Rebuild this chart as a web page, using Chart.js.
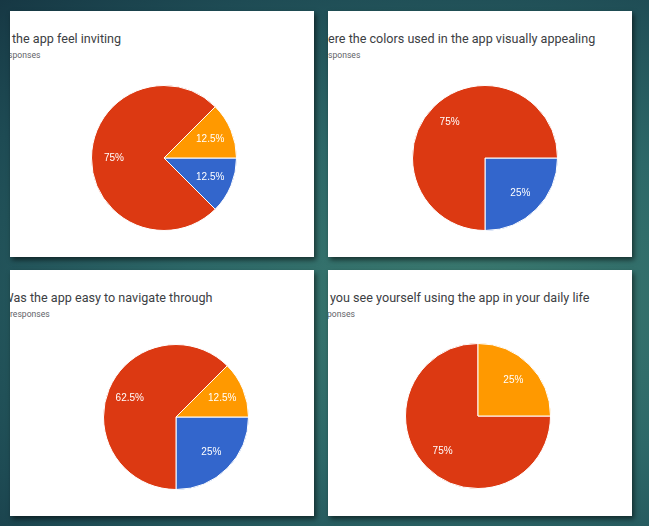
<!DOCTYPE html>
<html>
<head>
<meta charset="utf-8">
<script src="https://cdn.jsdelivr.net/npm/chart.js@4.4.1/dist/chart.umd.min.js"></script>
<style>
    html, body {
        margin: 0;
        padding: 0;
        width: 649px;
        height: 526px;
        overflow: hidden;
    }
    body {
        position: relative;
        background: radial-gradient(ellipse 110% 85% at 72% 58%, #3c7b70 0%, #2d6868 40%, #1e4b54 75%, #14323f 100%);
        font-family: Roboto, "Noto Sans", sans-serif;
    }
    .card {
        position: absolute;
        width: 304px;
        height: 246px;
        background: #fff;
        overflow: hidden;
        box-shadow: 2px 3px 5px rgba(0, 0, 0, 0.55);
    }
    .title, .subtitle {
        position: absolute;
        white-space: nowrap;
    }
    .title {
        top: 20px;
        font-size: 12.6px;
        color: #3c4043;
    }
    .subtitle {
        top: 39px;
        font-size: 8.6px;
        color: #5f6368;
    }
    .card canvas {
        position: absolute;
    }
</style>
</head>
<body>

<script>
// Answer options (no legend visible in the screenshot)
const categories = ["Option 1", "Option 2", "Option 3"];

// Response counts per question (8 responses each)
const invitingCounts = [1, 6, 1];
const colorsCounts = [2, 6, 0];
const navigateCounts = [2, 5, 1];
const dailyLifeCounts = [0, 6, 2];

const sliceColors = ["#3366cc", "#dc3912", "#ff9900"];

// Question titles: hidden part (cropped off on the left) + visible part
const titleHidden = ["Did ", "W", "W", "Can "];
const titleVisible = [
    "the app feel inviting",
    "ere the colors used in the app visually appealing",
    "as the app easy to navigate through",
    "you see yourself using the app in your daily life",
];
const subHidden = ["8 res", "8 re", "8 ", "8 res"];
const subVisible = ["ponses", "sponses", "responses", "ponses"];

// card placement and pie centre inside each card
const cards = [
    { left: 10, top: 11, cx: 154, cy: 147, data: invitingCounts, tx: 2, sx: 2.5 },
    { left: 328, top: 11, cx: 157, cy: 147, data: colorsCounts, tx: 0, sx: 0 },
    { left: 10, top: 270, cx: 166, cy: 147, data: navigateCounts, tx: 3.5, sx: 0 },
    { left: 328, top: 270, cx: 150, cy: 146, data: dailyLifeCounts, tx: 2, sx: -1 },
];

// Draws the percentage inside each slice
const sliceLabels = {
    id: "sliceLabels",
    afterDatasetsDraw(chart) {
        const ctx = chart.ctx;
        const values = chart.data.datasets[0].data;
        const total = values.reduce((a, b) => a + b, 0);
        const arcs = chart.getDatasetMeta(0).data;
        ctx.save();
        ctx.font = '10px "Liberation Sans", Arial, sans-serif';
        ctx.fillStyle = "#ffffff";
        ctx.textAlign = "center";
        ctx.textBaseline = "middle";
        arcs.forEach((arc, i) => {
            if (!values[i]) return;
            const p = arc.getProps(["x", "y", "startAngle", "endAngle", "outerRadius"], true);
            const mid = (p.startAngle + p.endAngle) / 2;
            const r = p.outerRadius * 0.69;
            const pct = Math.round((values[i] / total) * 1000) / 10;
            ctx.fillText(pct + "%", p.x + Math.cos(mid) * r, p.y + Math.sin(mid) * r);
        });
        ctx.restore();
    },
};

const SIZE = 146;

cards.forEach((c, i) => {
    const card = document.createElement("div");
    card.className = "card";
    card.style.left = c.left + "px";
    card.style.top = c.top + "px";
    document.body.appendChild(card);

    const title = document.createElement("div");
    title.className = "title";
    title.innerHTML = '<span class="h">' + titleHidden[i] + "</span>" + titleVisible[i];
    card.appendChild(title);
    title.style.left = c.tx - title.querySelector(".h").getBoundingClientRect().width + "px";

    const sub = document.createElement("div");
    sub.className = "subtitle";
    sub.innerHTML = '<span class="h">' + subHidden[i] + "</span>" + subVisible[i];
    card.appendChild(sub);
    sub.style.left = c.sx - sub.querySelector(".h").getBoundingClientRect().width + "px";

    const canvas = document.createElement("canvas");
    canvas.width = SIZE;
    canvas.height = SIZE;
    canvas.style.width = SIZE + "px";
    canvas.style.height = SIZE + "px";
    canvas.style.left = c.cx - SIZE / 2 + "px";
    canvas.style.top = c.cy - SIZE / 2 + "px";
    card.appendChild(canvas);

    new Chart(canvas.getContext("2d"), {
        type: "pie",
        data: {
            labels: categories,
            datasets: [
                {
                    data: c.data,
                    backgroundColor: sliceColors,
                    borderColor: "#ffffff",
                    borderWidth: 1,
                    hoverOffset: 0,
                },
            ],
        },
        options: {
            responsive: false,
            animation: false,
            rotation: 90,
            layout: { padding: 0 },
            plugins: {
                legend: { display: false },
                tooltip: { enabled: false },
            },
        },
        plugins: [sliceLabels],
    });
});
</script>
</body>
</html>
